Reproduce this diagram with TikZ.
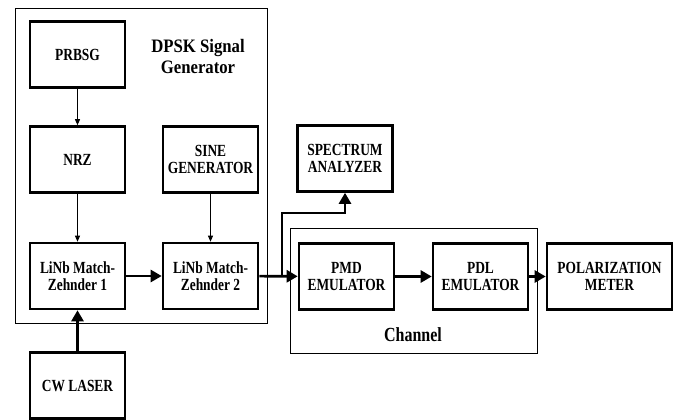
\documentclass[tikz,border=0pt]{standalone}
\usepackage{fontspec}
\setmainfont{Liberation Serif}
\newfontfamily\blkfont[FakeStretch=0.79]{Liberation Serif}
\newfontfamily\ttlfont[FakeStretch=0.88]{Liberation Serif}
\newfontfamily\chfont[FakeStretch=0.8]{Liberation Serif}
\usetikzlibrary{arrows.meta}
\begin{document}
\begin{tikzpicture}[x=1pt,y=-1pt,
  blk/.style={draw,line width=2.6pt,minimum width=95pt,minimum height=66pt,inner sep=0pt,align=center,font=\blkfont\fontsize{17}{16.8}\selectfont\bfseries},
  grp/.style={draw,line width=0.8pt},
  thin/.style={line width=0.9pt,-{Triangle[length=6pt,width=5pt]}},
  thick/.style={line width=2.6pt,-{Triangle[length=11pt,width=12pt]}}]
\useasboundingbox (0,0) rectangle (686,420);
% group boxes
\node[grp,minimum width=252pt,minimum height=315pt,inner sep=0pt] (dpsk) at (141,165.5) {};
\node[grp,minimum width=247pt,minimum height=125pt,inner sep=0pt] (chan) at (413.5,290.5) {};
\node[font=\ttlfont\fontsize{19}{21}\selectfont\bfseries,align=center] (dpsklbl) at (198,57) {DPSK Signal\\Generator};
\node[font=\chfont\fontsize{20}{22}\selectfont\bfseries] (chanlbl) at (413,335) {Channel};
% blocks
\node[blk] (prbsg) at (77.5,54.5) {PRBSG};
\node[blk] (nrz) at (77.5,159.5) {NRZ};
\node[blk] (sine) at (210.5,159.5) {SINE\\GENERATOR};
\node[blk] (mz1) at (77.5,276) {LiNb Match-\\Zehnder 1};
\node[blk] (mz2) at (210.5,276) {LiNb Match-\\Zehnder 2};
\node[blk] (cw) at (77.5,385.5) {CW LASER};
\node[blk] (spec) at (345,158.5) {SPECTRUM\\ANALYZER};
\node[blk] (pmd) at (346.5,276.5) {PMD\\EMULATOR};
\node[blk] (pdl) at (480.5,276.5) {PDL\\EMULATOR};
\node[blk,minimum width=125pt] (pol) at (609.5,276.5) {POLARIZATION\\METER};
% connectors
\draw[thin] (prbsg) -- (nrz);
\draw[thin] (nrz) -- (mz1);
\draw[thin] (sine) -- (mz2);
\draw[thick] (cw) -- (mz1);
\draw[thick] (mz1) -- (mz2);
\draw[thick] (mz2) -- (pmd);
\coordinate (br) at (282,276);
\draw[thick] (br) -- (282,213) -- (spec.south |- 0,213) -- (spec.south);
\draw[thick] (pmd) -- (pdl);
\draw[thick] (pdl) -- (pol);
\end{tikzpicture}
\end{document}
